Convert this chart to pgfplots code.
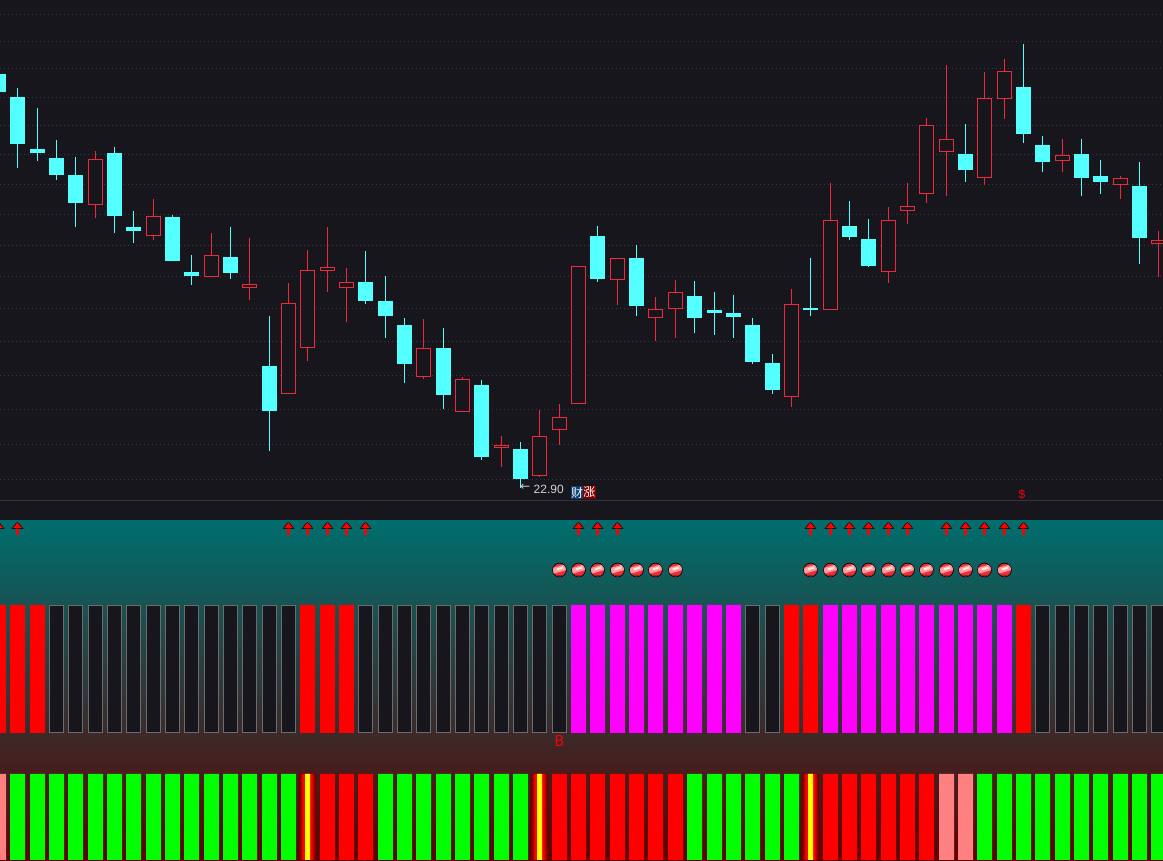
\documentclass[border=0pt]{standalone}
\usepackage{fontspec}
\usepackage{pgfplots}
\usepackage{pgfplotstable}
\pgfplotsset{compat=1.18}
\setmainfont{Liberation Sans}
\newfontfamily\dv{DejaVu Sans}
\newfontfamily\cjk{Noto Sans CJK SC}

\definecolor{panel}{HTML}{16161C}
\definecolor{rule}{HTML}{33333B}
\definecolor{griddot}{HTML}{3A3A3E}
\definecolor{downc}{HTML}{54FFFF}
\definecolor{upc}{HTML}{F0283C}
\definecolor{baredge}{HTML}{6C6C6C}
\definecolor{pinkbar}{HTML}{FF8080}
\definecolor{gradtop}{HTML}{006E6E}
\definecolor{gradbot}{HTML}{600000}
\definecolor{badgeblue}{HTML}{0C3C70}
\definecolor{badgered}{HTML}{800000}
\definecolor{barred}{HTML}{FF0000}
\definecolor{barmag}{HTML}{FF00FF}
\definecolor{bargreen}{HTML}{00FF00}
\definecolor{baryellow}{HTML}{FFFF00}
\definecolor{glowa}{HTML}{700000}
\definecolor{glowb}{HTML}{B00000}
\definecolor{glowc}{HTML}{E00000}
\definecolor{ballbase}{HTML}{E83038}
\definecolor{balldark}{HTML}{B01820}
\definecolor{ballband}{HTML}{FF9C9C}
\definecolor{ballshine}{HTML}{FFE8E8}

% pixel values read off the picture: y grows downwards
\pgfplotstableread{
x hi top bot lo
95.5 151 159.3 204.7 217.7
153.5 199 216.3 235.7 239.7
211.5 233 255.3 276.7 276.7
249.5 238 284.3 287.7 299.7
288.5 283 303.3 393.7 393.7
307.5 250 270.3 347.7 361
327.5 227 267.3 270.7 291.7
346.5 268 282.3 287.7 321.7
423.5 319 348.3 376.7 378.7
462.5 377.3 379.3 411.7 411.7
501.5 436 445.3 447.7 467
539.5 410 436.3 475.7 476.7
559.5 404 417.3 429.7 445
578.5 266.3 266.3 403.7 403.7
617.5 258.3 258.3 279.7 305
655.5 297 309.3 317.7 341
675.5 280 292.3 308.7 338
791.5 289 304.3 396.7 407
830.5 183 220.3 309.7 309.7
888.5 207 220.3 271.7 283
907.5 183 206.3 210.7 224
926.5 118 125.3 193.7 203
946.5 65 139.3 151.7 196
984.5 72 98.3 177.7 185
1004.5 59 71.3 98.7 119
1062.5 139 155.3 160.7 172
1120.5 176 178.3 184.7 199
1158.5 231 240.3 243.7 277
}\upcandles

\pgfplotstableread{
x hi top bot lo
-1.5 74 74 92 92
17.5 88 97 143.7 167.7
37.5 108 149 153 160.7
56.5 140 158 175 180
75.5 157 175 203 226.7
114.5 147.3 153 216 232.7
133.5 211 227 231 242.7
172.5 215 217 261 261
191.5 255 272 276 284.7
230.5 227 257 273 278.7
269.5 316 366 411 451
365.5 251 282 301 303.7
385.5 276 301 316 337.7
404.5 318 325 364 382.7
443.5 328 348 395 409
481.5 380 385 457 460
520.5 442 449 479 488
597.5 226 236 279 282
636.5 245 258 306 316
694.5 281 296 318 333
714.5 292 310 313 335
733.5 295 313 317 338
752.5 318 325 362 364
772.5 354 363 390 394
810.5 258 308 310 316
849.5 201 226 237 240
868.5 219 239 266 267
965.5 124 154 170 182
1023.5 44 87 134 143
1042.5 136 145 162 172
1081.5 139 154 178 196
1100.5 160 176 182 194
1139.5 162 186 238 264
}\downcandles

\pgfplotstableread{
x y
1163 14.3
1163 41.3
1163 68.3
1163 97.3
1163 125.3
1163 154.3
1163 184.3
1163 214.3
1163 245.3
1163 276.3
1163 308.3
1163 341.5
1163 375
1163 409.3
1163 444.3
1163 479.3
}\gridlevels

\pgfdeclareplotmark{sigarrow}{%
  \pgfsetfillcolor{barred}%
  \pgfpathrectangle{\pgfpoint{-1.1pt}{-6.5pt}}{\pgfpoint{2.2pt}{7pt}}\pgfusepathqfill
  \pgfsetstrokecolor{black}\pgfsetlinewidth{0.5pt}%
  \pgfpathmoveto{\pgfpoint{-5.3pt}{0pt}}%
  \pgfpathlineto{\pgfpoint{-1pt}{5.6pt}}%
  \pgfpathlineto{\pgfpoint{1pt}{5.6pt}}%
  \pgfpathlineto{\pgfpoint{5.3pt}{0pt}}%
  \pgfpathclose\pgfusepathqfillstroke
}
\pgfdeclareplotmark{ball}{%
  \pgfsetstrokecolor{black}\pgfsetlinewidth{0.7pt}%
  \pgfsetfillcolor{ballbase}%
  \pgfpathcircle{\pgfpointorigin}{6.9pt}\pgfusepathqfillstroke
  \pgfscope
  \pgfpathcircle{\pgfpointorigin}{6.5pt}\pgfusepathqclip
  \pgfsetfillcolor{balldark}%
  \pgfpathrectangle{\pgfpoint{-7pt}{-7pt}}{\pgfpoint{14pt}{2pt}}\pgfusepathqfill
  \pgfsetfillcolor{ballband}%
  \pgfpathmoveto{\pgfpoint{-7pt}{-4pt}}\pgfpathlineto{\pgfpoint{7pt}{0pt}}%
  \pgfpathlineto{\pgfpoint{7pt}{6pt}}\pgfpathlineto{\pgfpoint{-7pt}{2pt}}%
  \pgfpathclose\pgfusepathqfill
  \pgfsetfillcolor{ballshine}%
  \pgfpathmoveto{\pgfpoint{-3pt}{-0.5pt}}\pgfpathlineto{\pgfpoint{4pt}{1.5pt}}%
  \pgfpathlineto{\pgfpoint{3pt}{3.5pt}}\pgfpathlineto{\pgfpoint{-3pt}{1.5pt}}%
  \pgfpathclose\pgfusepathqfill
  \endpgfscope
}

\pgfplotsset{
  frame/.style={
    hide axis, scale only axis, anchor=south west,
    width=1163pt, xmin=0, xmax=1163,
  },
  bodies/.style 2 args={draw=none, no markers,
    error bars/.cd, y dir=plus, y explicit, error mark=none,
    error bar style={line width=#2, color=#1}},
  cell/.style 2 args={ybar, bar width=#2, bar shift=0pt, draw=none, fill=#1},
}

\newcommand\fsize[1]{\fontsize{#1}{#1}\selectfont}

\begin{document}
\begin{tikzpicture}[x=1pt,y=1pt]
\useasboundingbox (0,0) rectangle (1163,861);
\begin{axis}[frame, at={(0,0)}, height=861pt, ymin=0, ymax=861, y dir=reverse]
  % backgrounds
  \addplot[draw=none, fill=panel] coordinates {(0,0)(1163,0)(1163,520)(0,520)} -- cycle;
  \addplot[draw=none, shade, top color=gradtop, bottom color=gradbot]
    coordinates {(0,520)(1163,520)(1163,861)(0,861)} -- cycle;
  \addplot[xcomb, griddot, line width=1pt, dash pattern=on 1pt off 3pt] table[x=x, y=y] {\gridlevels};
  \addplot[rule, line width=1pt] coordinates {(0,500.5)(1163,500.5)};

  % wicks
  \addplot[bodies={upc}{1pt}] table[x=x, y=hi, y error plus expr=\thisrow{lo}-\thisrow{hi}] {\upcandles};
  \addplot[bodies={downc}{1pt}] table[x=x, y=hi, y error plus expr=\thisrow{lo}-\thisrow{hi}] {\downcandles};
  % bodies
  \addplot[bodies={downc}{15pt}] table[x=x, y=top, y error plus expr=\thisrow{bot}-\thisrow{top}] {\downcandles};
  \addplot[bodies={upc}{15pt}] table[x=x, y=top, y error plus expr=\thisrow{bot}-\thisrow{top}] {\upcandles};
  \addplot[bodies={panel}{13pt}] table[x=x, y expr=\thisrow{top}+1, y error plus expr=\thisrow{bot}-\thisrow{top}-2] {\upcandles};

  % signal rows
  \addplot[only marks, mark=sigarrow, mark options={xshift=-1.5pt}] coordinates {(0,528.5)};
  \addplot[only marks, mark=sigarrow] coordinates {
    (17.5,528.5)(288.5,528.5)(307.5,528.5)(327.5,528.5)(346.5,528.5)(365.5,528.5)
    (578.5,528.5)(597.5,528.5)(617.5,528.5)
    (810.5,528.5)(830.5,528.5)(849.5,528.5)(868.5,528.5)(888.5,528.5)(907.5,528.5)
    (946.5,528.5)(965.5,528.5)(984.5,528.5)(1004.5,528.5)(1023.5,528.5)};
  \addplot[only marks, mark=ball] coordinates {
    (559.5,570)(578.5,570)(597.5,570)(617.5,570)(636.5,570)(655.5,570)(675.5,570)
    (810.5,570)(830.5,570)(849.5,570)(868.5,570)(888.5,570)(907.5,570)(926.5,570)
    (946.5,570)(965.5,570)(984.5,570)(1004.5,570)};

  % labels
  \node[text=white!80!black, inner sep=0pt, anchor=west] at (axis cs:520,487) {\dv\fsize{12}←};
  \node[text=white!82!black, inner sep=0pt, anchor=west] at (axis cs:533.5,489) {\fsize{12}22.90};
  \node[fill=badgeblue, text=white, inner sep=0pt, minimum width=12pt, minimum height=13pt] at (axis cs:577,492.5) {\cjk\fsize{12}财};
  \node[fill=badgered, text=white, inner sep=0pt, minimum width=12.7pt, minimum height=13pt] at (axis cs:589.4,492.5) {\cjk\fsize{12}涨};
  \node[text=barred, inner sep=0pt] at (axis cs:1022,494) {\fsize{12}\$};
  \node[text=barred, inner sep=0pt, xscale=.85] at (axis cs:559.5,741) {\fsize{16}B};
\end{axis}

% indicator row: red / magenta / empty cells
\begin{axis}[frame, at={(0,127pt)}, height=130pt, ymin=-1, ymax=129]
  \addplot[cell={barred}{15pt}] coordinates {
    (-1.5,128)(17.5,128)(37.5,128)(307.5,128)(327.5,128)(346.5,128)(791.5,128)(810.5,128)(1023.5,128)};
  \addplot[cell={barmag}{15pt}] coordinates {
    (578.5,128)(597.5,128)(617.5,128)(636.5,128)(655.5,128)(675.5,128)(694.5,128)(714.5,128)(733.5,128)
    (830.5,128)(849.5,128)(868.5,128)(888.5,128)(907.5,128)(926.5,128)(946.5,128)(965.5,128)(984.5,128)(1004.5,128)};
  \addplot[ybar, bar width=14pt, bar shift=0pt, draw=baredge, fill=panel, line width=1pt] coordinates {
    (56.5,127.5)(75.5,127.5)(95.5,127.5)(114.5,127.5)(133.5,127.5)(153.5,127.5)(172.5,127.5)(191.5,127.5)(211.5,127.5)
    (230.5,127.5)(249.5,127.5)(269.5,127.5)(288.5,127.5)
    (365.5,127.5)(385.5,127.5)(404.5,127.5)(423.5,127.5)(443.5,127.5)(462.5,127.5)(481.5,127.5)(501.5,127.5)(520.5,127.5)(539.5,127.5)(559.5,127.5)
    (752.5,127.5)(772.5,127.5)
    (1042.5,127.5)(1062.5,127.5)(1081.5,127.5)(1100.5,127.5)(1120.5,127.5)(1139.5,127.5)(1158.5,127.5)};
\end{axis}

% bottom row: green / red / pink cells, three glowing cells
\begin{axis}[frame, at={(0,1pt)}, height=86pt, ymin=0, ymax=86]
  \addplot[cell={bargreen}{15pt}] coordinates {
    (17.5,86)(37.5,86)(56.5,86)(75.5,86)(95.5,86)(114.5,86)(133.5,86)(153.5,86)(172.5,86)(191.5,86)(211.5,86)(230.5,86)(249.5,86)(269.5,86)(288.5,86)
    (385.5,86)(404.5,86)(423.5,86)(443.5,86)(462.5,86)(481.5,86)(501.5,86)(520.5,86)
    (694.5,86)(714.5,86)(733.5,86)(752.5,86)(772.5,86)(791.5,86)
    (984.5,86)(1004.5,86)(1023.5,86)(1042.5,86)(1062.5,86)(1081.5,86)(1100.5,86)(1120.5,86)(1139.5,86)(1158.5,86)};
  \addplot[cell={barred}{15pt}] coordinates {
    (327.5,86)(346.5,86)(365.5,86)
    (559.5,86)(578.5,86)(597.5,86)(617.5,86)(636.5,86)(655.5,86)(675.5,86)
    (830.5,86)(849.5,86)(868.5,86)(888.5,86)(907.5,86)(926.5,86)};
  \addplot[cell={pinkbar}{15pt}] coordinates {(-1.5,86)(946.5,86)(965.5,86)};
  \addplot[cell={glowa}{17pt}] coordinates {(307.5,86)(539.5,86)(810.5,86)};
  \addplot[cell={glowb}{14pt}] coordinates {(307.5,86)(539.5,86)(810.5,86)};
  \addplot[cell={glowc}{11pt}] coordinates {(307.5,86)(539.5,86)(810.5,86)};
  \addplot[cell={barred}{9pt}] coordinates {(307.5,86)(539.5,86)(810.5,86)};
  \addplot[cell={baryellow}{5pt}] coordinates {(307.5,86)(539.5,86)(810.5,86)};
\end{axis}
\end{tikzpicture}
\end{document}
